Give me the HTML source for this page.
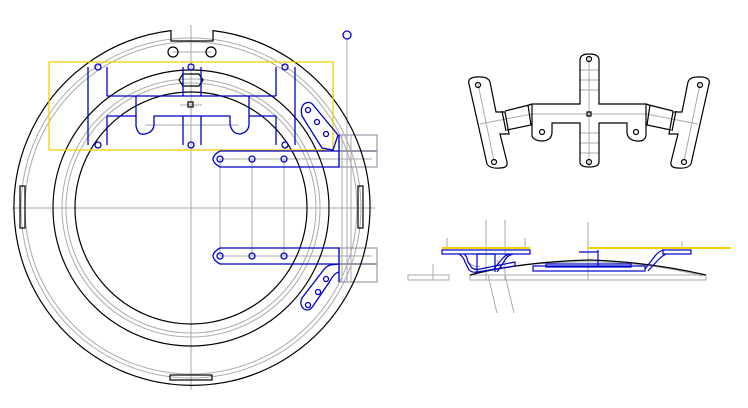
<!DOCTYPE html>
<html><head><meta charset="utf-8"><style>html,body{margin:0;padding:0;background:#fff}svg{display:block}</style></head>
<body>
<svg width="748" height="408" viewBox="0 0 748 408" xmlns="http://www.w3.org/2000/svg" fill="none" stroke-width="1.2">
<!-- LEFT VIEW -->
<g stroke="#aaa" stroke-width="1">
  <line x1="191" y1="25" x2="191" y2="390"/>
  <line x1="12" y1="208" x2="375" y2="208"/>
  <circle cx="191" cy="208" r="170"/>
  <circle cx="191" cy="208" r="166"/>
  <circle cx="191" cy="208" r="129"/>
  <circle cx="191" cy="208" r="125"/>
  <line x1="173" y1="52" x2="211" y2="52"/>
  <line x1="347" y1="39" x2="347" y2="282"/>
  <line x1="220" y1="159" x2="220" y2="256"/>
  <line x1="252" y1="159" x2="252" y2="256"/>
  <line x1="284" y1="159" x2="284" y2="256"/>
  <line x1="220" y1="159" x2="372" y2="159"/>
  <line x1="220" y1="256" x2="372" y2="256"/>
  <line x1="342" y1="135" x2="342" y2="282"/>
  <line x1="351" y1="135" x2="351" y2="282"/>
  <line x1="145" y1="125" x2="239" y2="125"/>
  <line x1="180" y1="105" x2="202" y2="105"/>
</g>
<g stroke="#99a" stroke-width="1.2">
  <rect x="339" y="135" width="38" height="32"/>
  <rect x="339" y="248" width="38" height="34"/>
  <line x1="339" y1="151" x2="377" y2="151" stroke-width="2"/>
  <line x1="339" y1="264" x2="377" y2="264" stroke-width="2"/>
</g>
<g stroke="#000">
  <path d="M171,30.6 A178,178 0 1 0 213,30.6 L213,41 L171,41 Z"/>
  <circle cx="191" cy="208" r="138"/>
  <circle cx="191" cy="208" r="116"/>
  <circle cx="173" cy="52" r="5"/>
  <circle cx="211" cy="52" r="5"/>
  <rect x="170" y="375" width="42" height="5"/>
  <rect x="20" y="186" width="5" height="42"/>
  <rect x="358" y="186" width="5" height="42"/>
  <path d="M183,74 L199,74 L203,80 L199,86 L183,86 L179,80 Z"/>
  <rect x="188" y="102" width="5" height="5"/>
</g>
<rect x="49" y="62" width="284" height="88" stroke="#f5d000" stroke-width="1.3"/>
<g stroke="#0000cc" stroke-width="1.3">
  <line x1="88" y1="67" x2="88" y2="145"/>
  <line x1="107" y1="67" x2="107" y2="96"/>
  <line x1="107" y1="116" x2="107" y2="145"/>
  <line x1="276" y1="67" x2="276" y2="96"/>
  <line x1="276" y1="116" x2="276" y2="145"/>
  <line x1="295" y1="67" x2="295" y2="145"/>
  <line x1="183" y1="67" x2="183" y2="96"/>
  <line x1="201" y1="67" x2="201" y2="96"/>
  <line x1="183" y1="116" x2="183" y2="145"/>
  <line x1="201" y1="116" x2="201" y2="145"/>
  <line x1="107" y1="96" x2="276" y2="96"/>
  <path d="M107,116 L136,116 L136,96 M136,116 L136,126 Q138,136 145,134 Q154,132 154,124 L154,116 L230,116 L230,124 Q232,134 240,134 Q249,132 249,124 L249,96 M249,116 L276,116"/>
  <circle cx="98" cy="67" r="3"/><circle cx="98" cy="145" r="3"/>
  <circle cx="191" cy="67" r="3"/><circle cx="191" cy="145" r="3"/>
  <circle cx="285" cy="67" r="3"/><circle cx="285" cy="145" r="3"/>
  <circle cx="347" cy="35" r="4"/>
  <path d="M220,151 L339,151 L339,135 M339,151 L339,167 L220,167 Q213,163 213,159 Q213,155 220,151"/>
  <path d="M220,248 L339,248 L339,282 M339,264 L220,264 Q213,260 213,256 Q213,252 220,248"/>
  <circle cx="220" cy="159" r="3"/><circle cx="252" cy="159" r="3"/><circle cx="284" cy="159" r="3"/>
  <circle cx="220" cy="256" r="3"/><circle cx="252" cy="256" r="3"/><circle cx="284" cy="256" r="3"/>
  <path d="M304,104 Q310,100 314,106 L338,135 L333,150 L322,148 L302,116 Q300,108 304,104 Z"/>
  <circle cx="308" cy="110" r="2.5"/><circle cx="317" cy="122" r="2.5"/><circle cx="326" cy="134" r="2.5"/>
  <path d="M339,264 L330,265 Q325,267 322,272 L302,298 Q299,305 304,309 Q309,312 313,306 L330,281 Q334,273 339,272"/>
  <circle cx="326" cy="279" r="2.5"/><circle cx="318" cy="292" r="2.5"/><circle cx="308" cy="305" r="2.5"/>
</g>
<!-- TOP RIGHT VIEW -->
<g stroke="#aaa" stroke-width="1">
  <line x1="589" y1="56" x2="589" y2="166"/>
  <line x1="580" y1="70" x2="599" y2="70"/><line x1="580" y1="80" x2="599" y2="80"/><line x1="580" y1="90" x2="599" y2="90"/>
  <line x1="580" y1="133" x2="599" y2="133"/><line x1="580" y1="143" x2="599" y2="143"/><line x1="580" y1="153" x2="599" y2="153"/>
  <line x1="532" y1="114" x2="646" y2="114"/>
  <line x1="478" y1="84" x2="494" y2="161"/>
  <line x1="700" y1="84" x2="684" y2="161"/>
  <line x1="480" y1="124" x2="532" y2="114"/>
  <line x1="646" y1="114" x2="698" y2="124"/>
</g>
<g stroke="#000">
  <path d="M580,104 L580,60 Q580,54 589,54 Q599,54 599,60 L599,104 L646,104 L646,136 Q644,142 637,141 Q627,140 627,132 L627,123 L599,123 L599,162 Q599,167 589,167 Q580,167 580,162 L580,123 L552,123 L552,132 Q552,140 543,141 Q534,141 532,136 L532,104 Z"/>
  <path d="M469,84 Q467,78 476,77 Q488,76 490,82 L496,112 L505,112 L509,134 L500,134 L507,162 Q508,168 500,168 Q490,169 487,164 Z"/>
  <path d="M505,111 L529,105 L532,104 M507,130 L531,125 L532,123 M502,111 L506,131 M528,105 L531,125"/>
  <path d="M709,84 Q711,78 702,77 Q690,76 688,82 L682,112 L673,112 L669,134 L678,134 L671,162 Q670,168 678,168 Q688,169 691,164 Z"/>
  <path d="M673,111 L649,105 L646,104 M671,130 L647,125 L646,123 M676,111 L672,131 M650,105 L647,125"/>
  <circle cx="589" cy="59" r="2.5"/><circle cx="589" cy="162" r="2.5"/>
  <rect x="587" y="112" width="4" height="4"/>
  <circle cx="542" cy="132" r="2.5"/><circle cx="636" cy="132" r="2.5"/>
  <circle cx="478" cy="85" r="2.5"/><circle cx="494" cy="162" r="2.5"/>
  <circle cx="700" cy="85" r="2.5"/><circle cx="684" cy="162" r="2.5"/>
</g>
<!-- BOTTOM RIGHT VIEW -->
<g stroke="#aaa" stroke-width="1">
  <rect x="408" y="275" width="41" height="5"/>
  <rect x="470" y="275" width="236" height="5"/>
  <line x1="433" y1="264" x2="433" y2="280"/>
  <line x1="447" y1="238" x2="447" y2="250"/>
  <line x1="486" y1="220" x2="486" y2="280"/>
  <line x1="505" y1="220" x2="505" y2="280"/>
  <line x1="525" y1="238" x2="525" y2="250"/>
  <line x1="588" y1="222" x2="588" y2="280"/>
  <line x1="682" y1="241" x2="682" y2="250"/>
  <line x1="488" y1="275" x2="497" y2="313"/>
  <line x1="505" y1="275" x2="514" y2="313"/>
  <path d="M475,272 Q600,250 703,276"/>
  <path d="M468,262 Q475,268 480,266 M497,260 Q500,268 503,268"/>
</g>
<path d="M470,275 Q520,262 590,260 Q650,262 706,275" stroke="#000"/>
<line x1="442" y1="248" x2="530" y2="248" stroke="#f5d000" stroke-width="2"/>
<line x1="588" y1="248" x2="731" y2="248" stroke="#f5d000" stroke-width="2"/>
<g stroke="#0000cc" stroke-width="1.2">
  <rect x="442" y="250" width="88" height="4"/>
  <path d="M459,254 Q463,256 465,262 L469,270 Q472,273 478,272 L515,266 M464,254 Q467,256 468,262 L472,268 Q475,270 480,269 L515,262 L515,266"/>
  <path d="M513,254 Q508,255 505,260 L497,272 M510,254 Q505,255 502,259 L493,270"/>
  <line x1="477" y1="254" x2="477" y2="272"/><line x1="495" y1="254" x2="495" y2="272"/>
  <line x1="477" y1="254" x2="495" y2="254"/>
  <rect x="533" y="266" width="112" height="5"/>
  <rect x="546" y="264" width="85" height="3"/>
  <path d="M579,252 L598,252 M598,250 L598,266"/>
  <rect x="663" y="250" width="28" height="4"/>
  <path d="M663,250 Q658,252 655,256 L645,269 M666,254 Q662,256 659,259 L648,271"/>
</g>
</svg>
</body></html>
